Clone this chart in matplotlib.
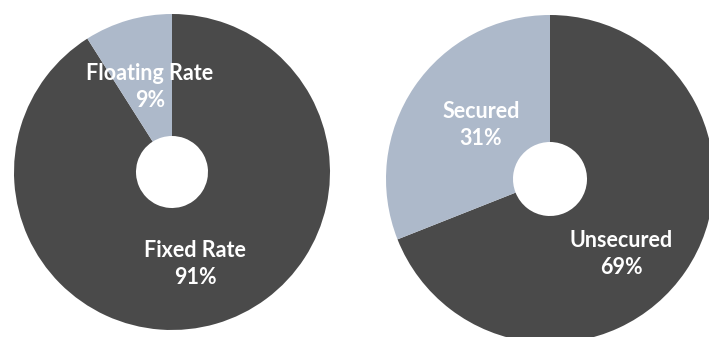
import matplotlib.pyplot as plt

# Data
rate_labels = ['Fixed Rate', 'Floating Rate']
rate_values = [91, 9]
security_labels = ['Unsecured', 'Secured']
security_values = [69, 31]

dark = '#4a4a4a'
light = '#adb9ca'

W, H = 709, 337
fig = plt.figure(figsize=(W / 100, H / 100), dpi=100)
ax = fig.add_axes([0, 0, 1, 1])

# left donut
ax.pie(rate_values, colors=[dark, light], startangle=90, counterclock=False,
       center=(172, H - 172), radius=158, frame=True,
       wedgeprops=dict(width=122, linewidth=0))
# right donut
ax.pie(security_values, colors=[dark, light], startangle=90, counterclock=False,
       center=(550, H - 179), radius=164, frame=True,
       wedgeprops=dict(width=127, linewidth=0))
ax.set_xlim(0, W)
ax.set_ylim(0, H)
ax.set_aspect('equal')
ax.axis('off')

font = dict(color='white', fontsize=15.5, fontweight='bold', family='Lato',
            ha='center', va='center', linespacing=1.35)

label_pos = {
    'Fixed Rate': (195, H - 264),
    'Floating Rate': (150, H - 87),
    'Unsecured': (621, H - 254),
    'Secured': (481, H - 125),
}
for labels, values in [(rate_labels, rate_values), (security_labels, security_values)]:
    for lab, val in zip(labels, values):
        x, y = label_pos[lab]
        ax.text(x, y, f'{lab}\n{val}%', **font)

fig.savefig('out.png', dpi=100)
